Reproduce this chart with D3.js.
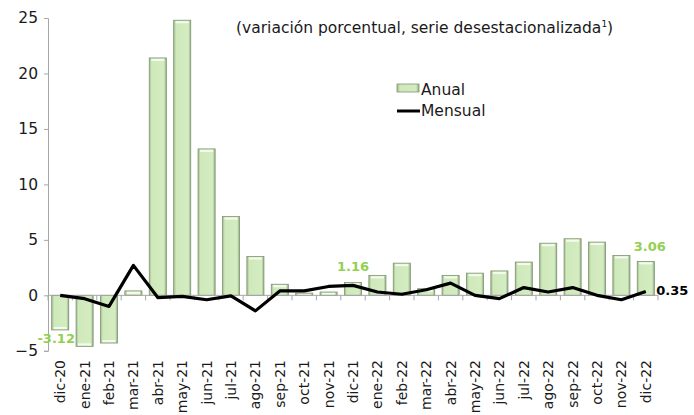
<!DOCTYPE html>
<html>
<head>
<meta charset="utf-8">
<script src="https://d3js.org/d3.v7.min.js"></script>
<style>
  body { margin: 0; background: #fff; }
  text { font-family: "DejaVu Sans", sans-serif; }
</style>
</head>
<body>
<svg id="chart"></svg>
<script>
// months shown on the x axis
var meses = ["dic-20", "ene-21", "feb-21", "mar-21", "abr-21", "may-21", "jun-21", "jul-21", "ago-21", "sep-21", "oct-21", "nov-21",
  "dic-21", "ene-22", "feb-22", "mar-22", "abr-22", "may-22", "jun-22", "jul-22", "ago-22", "sep-22", "oct-22", "nov-22", "dic-22"];
// annual change (bars)
var anual = [-3.12, -4.6, -4.3, 0.4, 21.4, 24.8, 13.2, 7.1, 3.5, 1.0, 0.2, 0.3,
  1.16, 1.8, 2.9, 0.6, 1.8, 2.0, 2.2, 3.0, 4.7, 5.1, 4.8, 3.6, 3.06];
// monthly change (line)
var mensual = [0.0, -0.3, -1.0, 2.7, -0.2, -0.1, -0.4, -0.05, -1.4, 0.4, 0.4, 0.8,
  0.9, 0.3, 0.1, 0.5, 1.1, 0.0, -0.3, 0.7, 0.3, 0.7, 0.0, -0.4, 0.35];
var yTicks = [-5, 0, 5, 10, 15, 20, 25];

var W = 694, H = 415;
var svg = d3.select("#chart").attr("width", W).attr("height", H);

var x = d3.scaleBand().domain(meses).range([48, 658]).paddingInner(0.3).paddingOuter(0.15);
var y = d3.scaleLinear().domain([-5, 25]).range([350.8, 18]);

// bar gradient (bevel look)
var defs = svg.append("defs");
var grad = defs.append("linearGradient").attr("id", "barGrad").attr("x1", "0").attr("x2", "1").attr("y1", "0").attr("y2", "0");
grad.append("stop").attr("offset", "0%").attr("stop-color", "#9fb98c");
grad.append("stop").attr("offset", "14%").attr("stop-color", "#cfe9bb");
grad.append("stop").attr("offset", "86%").attr("stop-color", "#d3ecc1");
grad.append("stop").attr("offset", "100%").attr("stop-color", "#93ad82");

// y axis
var yAxis = svg.append("g").attr("transform", "translate(48,0)")
  .call(d3.axisLeft(y).tickValues(yTicks).tickSize(4).tickPadding(6));
yAxis.select(".domain").attr("stroke", "#a6a6a6");
yAxis.selectAll(".tick line").attr("stroke", "#a6a6a6");
yAxis.selectAll(".tick text").style("font-size", "15.5px").attr("fill", "#1a1a1a")
  .style("font-family", "DejaVu Sans");

// bars
var bars = svg.append("g").selectAll("g").data(anual).join("g");
bars.append("rect")
  .attr("x", (d, i) => x(meses[i]))
  .attr("y", d => y(Math.max(0, d)))
  .attr("width", x.bandwidth())
  .attr("height", d => Math.abs(y(d) - y(0)))
  .attr("fill", "url(#barGrad)")
  .attr("stroke", "#7f9472")
  .attr("stroke-width", 0.8);
// top highlight
bars.append("rect")
  .attr("x", (d, i) => x(meses[i]) + 2)
  .attr("y", d => d >= 0 ? y(d) + 1 : y(d) - 3)
  .attr("width", x.bandwidth() - 4)
  .attr("height", d => Math.min(2, Math.abs(y(d) - y(0)) / 2))
  .attr("fill", "#f4fbee");

// zero axis line and category ticks
svg.append("line").attr("x1", 48).attr("x2", 658).attr("y1", y(0)).attr("y2", y(0))
  .attr("stroke", "#a6a6a6");
svg.append("g").selectAll("line").data(d3.range(meses.length + 1)).join("line")
  .attr("x1", i => 48 + i * x.step()).attr("x2", i => 48 + i * x.step())
  .attr("y1", y(0)).attr("y2", y(0) + 5)
  .attr("stroke", "#a6a6a6");

// category labels
svg.append("g").selectAll("text").data(meses).join("text")
  .attr("transform", d => "translate(" + (x(d) + x.bandwidth() / 2) + ",360) rotate(-90)")
  .attr("text-anchor", "end")
  .attr("dy", "0.36em")
  .style("font-size", "14px")
  .attr("fill", "#1a1a1a")
  .text(d => d);

// monthly line
var line = d3.line()
  .x((d, i) => x(meses[i]) + x.bandwidth() / 2)
  .y(d => y(d));
svg.append("path").datum(mensual)
  .attr("d", line)
  .attr("fill", "none")
  .attr("stroke", "#000")
  .attr("stroke-width", 3.2)
  .attr("stroke-linejoin", "round");

// data labels
var last = meses.length - 1;
svg.append("text").attr("x", x(meses[0]) + x.bandwidth() / 2 - 4).attr("y", y(anual[0]) + 13)
  .attr("text-anchor", "middle").attr("font-weight", "bold").style("font-size", "13px")
  .attr("fill", "#92d050").text(anual[0].toFixed(2));
svg.append("text").attr("x", x(meses[12]) + x.bandwidth() / 2).attr("y", y(anual[12]) - 11)
  .attr("text-anchor", "middle").attr("font-weight", "bold").style("font-size", "13px")
  .attr("fill", "#92d050").text(anual[12].toFixed(2));
svg.append("text").attr("x", x(meses[last]) + x.bandwidth() / 2 + 4).attr("y", y(anual[last]) - 10)
  .attr("text-anchor", "middle").attr("font-weight", "bold").style("font-size", "13px")
  .attr("fill", "#92d050").text(anual[last].toFixed(2));
svg.append("text").attr("x", x(meses[last]) + x.bandwidth() + 2).attr("y", y(mensual[last]) + 4)
  .attr("font-weight", "bold").style("font-size", "13px")
  .attr("fill", "#000").text(mensual[last].toFixed(2));

// subtitle
var sub = svg.append("text").attr("x", 236).attr("y", 33).style("font-size", "15.5px").attr("fill", "#1a1a1a");
sub.append("tspan").text("(variación porcentual, serie desestacionalizada");
sub.append("tspan").attr("dy", "-6").style("font-size", "9px").text("1");
sub.append("tspan").attr("dy", "6").text(")");

// legend
svg.append("rect").attr("x", 397).attr("y", 84).attr("width", 22).attr("height", 8)
  .attr("fill", "url(#barGrad)").attr("stroke", "#7f9472").attr("stroke-width", 0.8);
svg.append("text").attr("x", 421).attr("y", 95).style("font-size", "15.5px").attr("fill", "#1a1a1a").text("Anual");
svg.append("line").attr("x1", 397).attr("x2", 420).attr("y1", 111).attr("y2", 111)
  .attr("stroke", "#000").attr("stroke-width", 3);
svg.append("text").attr("x", 421).attr("y", 116).style("font-size", "15.5px").attr("fill", "#1a1a1a").text("Mensual");
</script>
</body>
</html>
